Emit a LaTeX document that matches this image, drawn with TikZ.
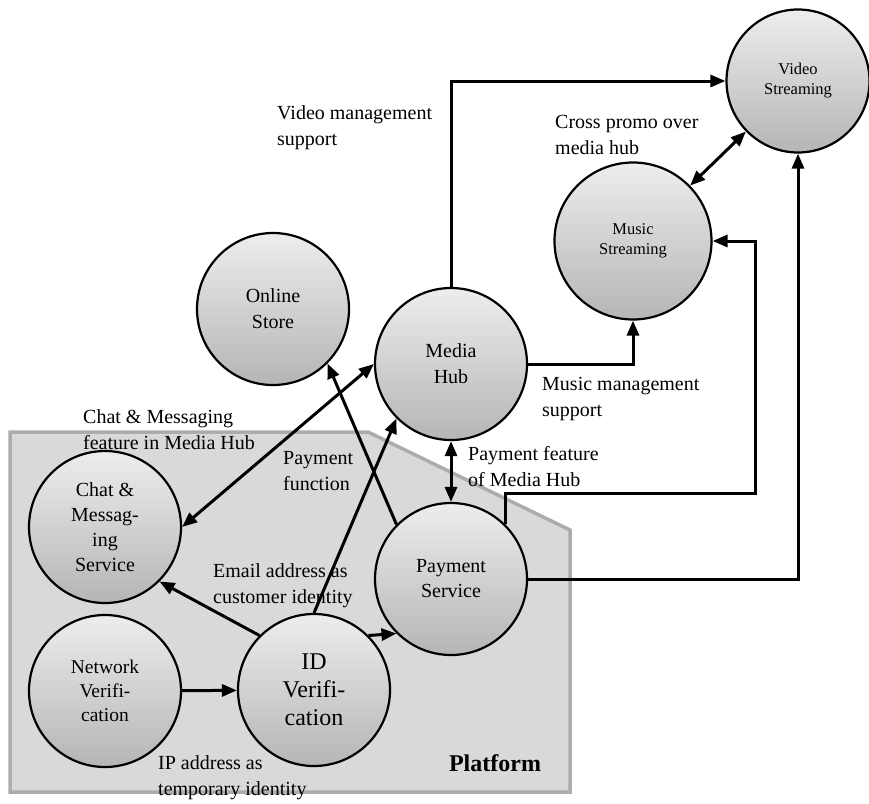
\documentclass[tikz,border=0pt]{standalone}
\usepackage{fontspec}
\setmainfont{Liberation Serif}
\usetikzlibrary{arrows.meta}
\begin{document}
\begin{tikzpicture}[x=1pt,y=-1pt,
                proc/.style={circle,draw,line width=2.2pt,top color=gray!14,bottom color=gray!58,minimum size=152pt,inner sep=0pt,align=center,font=\fontsize{20}{26}\selectfont},
                smallproc/.style={proc,font=\fontsize{16.5}{20}\selectfont},
                flow/.style={line width=3pt,-{Triangle[length=15pt,width=12pt]}},
                twoway/.style={line width=3pt,{Triangle[length=15pt,width=12pt]}-{Triangle[length=15pt,width=12pt]}},
                lbl/.style={inner sep=0pt,anchor=west,align=left,font=\fontsize{20}{26}\selectfont}]
                \useasboundingbox (0,0) rectangle (869,803);
                \filldraw[gray!65,fill=gray!30,line width=3.5pt] (10,432) -- (368,432) -- (570,530) -- (570,792) -- (10,792) -- cycle;
                \node[font=\bfseries\fontsize{24}{28}\selectfont] (plat) at (495,763) {Platform};

                \node[smallproc,minimum size=143pt] (vid) at (798,81) {Video\\Streaming};
                \node[smallproc,minimum size=157pt] (mus) at (633,241) {Music\\Streaming};
                \node[proc] (store) at (273,309) {Online\\Store};
                \node[proc] (hub) at (451,364) {Media\\Hub};
                \node[proc,font=\fontsize{20}{25}\selectfont] (chat) at (105,527) {Chat \&\\Messag-\\ing\\Service};
                \node[proc,font=\fontsize{20}{25}\selectfont] (pay) at (451,579) {Payment\\Service};
                \node[proc,font=\fontsize{19.5}{24}\selectfont] (net) at (105,691) {Network\\Verifi-\\cation};
                \node[proc,font=\fontsize{24}{28}\selectfont] (idv) at (314,690) {ID\\Verifi-\\cation};
                \coordinate (turn) at (755,493);

                \draw[flow] (hub.north) |- (vid.west);
                \draw[flow] (hub.east) -| (mus.south);
                \draw[twoway] (mus) -- (vid);
                \draw[flow] (pay.north east) |- (turn) |- (mus.east);
                \draw[flow] (pay.east) -| (vid.south);
                \draw[twoway] (hub) -- (pay);
                \draw[twoway] (chat.east) -- (hub.west);
                \draw[flow] (idv.north) -- (hub.south west);
                \draw[flow] (pay.north west) -- (store.south east);
                \draw[flow] (idv.north west) -- (chat.south east);
                \draw[flow] (idv.north east) -- (pay.south west);
                \draw[flow] (net) -- (idv);

                \node[lbl] (l1) at (277,128) {Video management\\support};
                \node[lbl] (l2) at (555,135) {Cross promo over\\media hub};
                \node[lbl] (l3) at (542,399) {Music management\\support};
                \node[lbl] (l4) at (468,467) {Payment feature\\of Media Hub};
                \node[lbl] (l5) at (83,430) {Chat \& Messaging\\feature in Media Hub};
                \node[lbl] (l6) at (283,471) {Payment\\function};
                \node[lbl] (l7) at (213,586) {Email address as\\customer identity};
                \node[lbl] (l8) at (158,778) {IP address as\\temporary identity};
            \end{tikzpicture}
\end{document}
